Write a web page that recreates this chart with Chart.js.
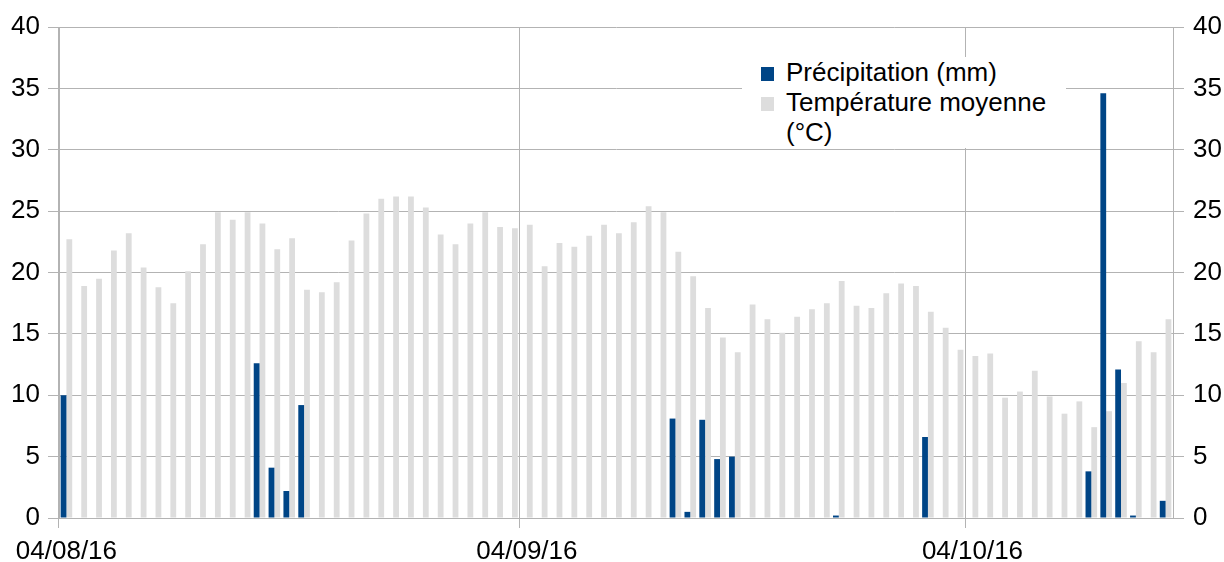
<!DOCTYPE html>
<html>
<head>
<meta charset="utf-8">
<script src="https://cdn.jsdelivr.net/npm/chart.js"></script>
<style>
  body { margin: 0; background: #fff; }
  #wrap { position: relative; width: 1224px; height: 562px; }
  #legend {
    position: absolute; left: 742px; top: 57px; width: 324px; height: 91px;
    background: #fff; color: #000;
    font-family: "Liberation Sans", Arial, sans-serif; font-size: 26px; line-height: 30px;
  }
  #legend .item { position: relative; padding-left: 44px; }
  #legend .box { position: absolute; left: 19px; }
</style>
</head>
<body>
<div id="wrap">
  <canvas id="myChart" width="1224" height="562"></canvas>
  <div id="legend"></div>
</div>
<script>
// daily values from 04/08/16 to 17/10/16
const precipitation = [
  10.0, 0, 0, 0, 0, 0, 0, 0, 0, 0,
  0, 0, 0, 12.6, 4.1, 2.2, 9.2, 0, 0, 0,
  0, 0, 0, 0, 0, 0, 0, 0, 0, 0,
  0, 0, 0, 0, 0, 0, 0, 0, 0, 0,
  0, 8.1, 0.5, 8.0, 4.8, 5.0, 0, 0, 0, 0,
  0, 0, 0.2, 0, 0, 0, 0, 0, 6.6, 0,
  0, 0, 0, 0, 0, 0, 0, 0, 0, 3.8,
  34.6, 12.1, 0.2, 0, 1.4
];
const temperature = [
  22.7, 18.9, 19.5, 21.8, 23.2, 20.4, 18.8, 17.5, 20.1, 22.3,
  24.9, 24.3, 24.9, 24.0, 21.9, 22.8, 18.6, 18.4, 19.2, 22.6,
  24.8, 26.0, 26.2, 26.2, 25.3, 23.1, 22.3, 24.0, 24.9, 23.7,
  23.6, 23.9, 20.5, 22.4, 22.1, 23.0, 23.9, 23.2, 24.1, 25.4,
  24.9, 21.7, 19.7, 17.1, 14.7, 13.5, 17.4, 16.2, 15.1, 16.4,
  17.0, 17.5, 19.3, 17.3, 17.1, 18.3, 19.1, 18.9, 16.8, 15.5,
  13.7, 13.2, 13.4, 9.8, 10.3, 12.0, 9.9, 8.5, 9.5, 7.4,
  8.7, 11.0, 14.4, 13.5, 16.2
];
const seriesNames = ['Précipitation (mm)', 'Température moyenne\n(°C)'];
const seriesColors = ['#004586', '#dddddd'];
const shownDates = ['04/08/16', '04/09/16', '04/10/16'];

const pad = n => String(n).padStart(2, '0');
const dates = temperature.map((_, i) => {
  const d = new Date(2016, 7, 4 + i);
  return pad(d.getDate()) + '/' + pad(d.getMonth() + 1) + '/' + String(d.getFullYear()).slice(2);
});

const GRID = '#b3b3b3';
const isShown = i => i !== undefined && shownDates.includes(dates[i]);

Chart.defaults.font.family = '"Liberation Sans", Arial, sans-serif';
Chart.defaults.font.size = 26;
Chart.defaults.color = '#000';

const ctx = document.getElementById('myChart').getContext('2d');
const myChart = new Chart(ctx, {
  type: 'bar',
  data: {
    labels: dates,
    datasets: [
      { label: seriesNames[0], data: precipitation, backgroundColor: seriesColors[0], yAxisID: 'y' },
      { label: seriesNames[1], data: temperature, backgroundColor: seriesColors[1], yAxisID: 'y' }
    ]
  },
  options: {
    responsive: false,
    animation: false,
    datasets: { bar: { categoryPercentage: 0.78, barPercentage: 1.0 } },
    layout: { padding: { top: 27, left: 0, right: 0, bottom: 0 } },
    plugins: { legend: { display: false }, tooltip: { enabled: false } },
    scales: {
      x: {
        offset: true,
        grid: {
          offset: true,
          tickLength: 10,
          color: c => isShown(c.index) ? GRID : 'rgba(0,0,0,0)'
        },
        border: { color: GRID },
        ticks: {
          autoSkip: false, maxRotation: 0, padding: 8,
          callback: (v, i) => isShown(i) ? dates[i] : ''
        },
        afterFit: s => { s.height = 44; }
      },
      y: {
        position: 'left', min: 0, max: 40,
        ticks: { stepSize: 5, padding: 8 },
        grid: { color: GRID, tickLength: 11 },
        border: { color: GRID },
        afterFit: s => { s.width = 59; }
      },
      y2: {
        position: 'right', min: 0, max: 40,
        ticks: { stepSize: 5, padding: 9 },
        grid: { drawOnChartArea: false, color: GRID, tickLength: 11 },
        border: { color: GRID },
        afterFit: s => { s.width = 51; }
      }
    }
  }
});

// legend as html, wraps like the original
const legend = document.getElementById('legend');
seriesNames.forEach((name, i) => {
  const item = document.createElement('div');
  item.className = 'item';
  const box = document.createElement('span');
  box.className = 'box';
  box.style.cssText = `top:10px;width:13px;height:14px;background:${seriesColors[i]}`;
  item.appendChild(box);
  name.split('\n').forEach((line, j) => {
    if (j) item.appendChild(document.createElement('br'));
    item.appendChild(document.createTextNode(line));
  });
  legend.appendChild(item);
});
</script>
</body>
</html>
